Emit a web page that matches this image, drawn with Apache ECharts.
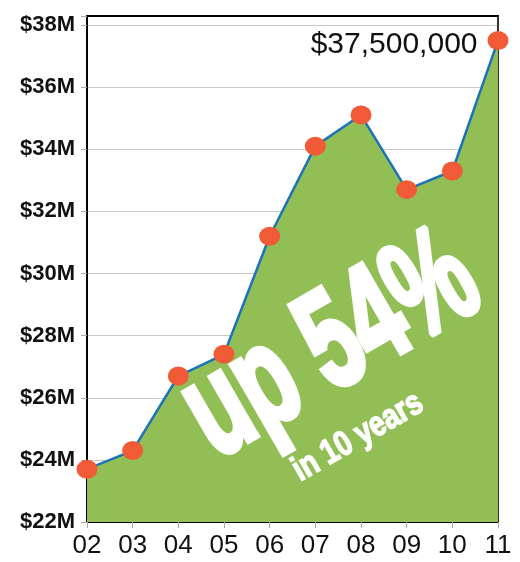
<!DOCTYPE html>
<html>
<head>
<meta charset="utf-8">
<script src="https://cdn.jsdelivr.net/npm/echarts@6/dist/echarts.min.js"></script>
<style>
  html, body { margin: 0; padding: 0; background: #fff; }
  #chart { width: 520px; height: 562px; }
</style>
</head>
<body>
<div id="chart"></div>
<script>
// years (2002 - 2011)
var years = ['02', '03', '04', '05', '06', '07', '08', '09', '10', '11'];
// value in millions of dollars
var values = [23.7, 24.3, 26.7, 27.4, 31.2, 34.1, 35.1, 32.7, 33.3, 37.5];
var lastLabel = '$37,500,000';
var headline = 'up 54%';
var subline = 'in 10 years';

var font = '"Liberation Sans", Arial, sans-serif';
var tilt = 30 * Math.PI / 180;

var chart = echarts.init(document.getElementById('chart'));

var seriesData = values.map(function (v, i) {
    if (i === values.length - 1) {
        return {
            value: v,
            label: {
                show: true,
                position: 'left',
                distance: 10,
                offset: [0, 4],
                formatter: lastLabel,
                fontFamily: font,
                fontSize: 30,
                color: '#111'
            }
        };
    }
    return v;
});

function slantedText(x, y, text, size, squeeze, weight) {
    // rotate the group, squeeze the text inside it (no shear)
    return {
        type: 'group',
        x: x,
        y: y,
        rotation: tilt,
        z: 10,
        children: [{
            type: 'text',
            scaleX: squeeze,
            z: 10,
            style: {
                text: text,
                fill: '#fff',
                stroke: '#fff',
                lineWidth: weight,
                font: 'bold ' + size + 'px ' + font,
                textAlign: 'center',
                textVerticalAlign: 'middle',
                align: 'center',
                verticalAlign: 'middle'
            }
        }]
    };
}

var option = {
    animation: false,
    grid: { left: 87, right: 22, top: 16, bottom: 40 },
    xAxis: [{
        type: 'category',
        data: years,
        boundaryGap: false,
        axisLine: { lineStyle: { color: '#000', width: 2 } },
        axisTick: { show: true, length: 6, lineStyle: { color: '#aaa' } },
        axisLabel: { fontFamily: font, fontSize: 26, color: '#111', margin: 11 }
    }, {
        type: 'category',
        data: years,
        position: 'top',
        boundaryGap: false,
        axisLine: { lineStyle: { color: '#000', width: 2 } },
        axisTick: { show: false },
        axisLabel: { show: false }
    }],
    yAxis: [{
        type: 'value',
        min: 22,
        max: 38.29,
        interval: 2,
        axisLine: { show: true, lineStyle: { color: '#000', width: 2 } },
        axisTick: { show: true, length: 6, lineStyle: { color: '#aaa' } },
        splitLine: { lineStyle: { color: '#c8c8c8', width: 1 } },
        axisLabel: {
            fontFamily: font,
            fontWeight: 'bold',
            fontSize: 22,
            color: '#111',
            margin: 12,
            formatter: function (v) {
                return (Math.abs(v % 2) < 1e-6) ? '$' + v + 'M' : '';
            }
        }
    }, {
        type: 'value',
        min: 22,
        max: 38.29,
        interval: 2,
        position: 'right',
        axisLine: { show: true, lineStyle: { color: '#333', width: 2 } },
        axisTick: { show: false },
        splitLine: { show: false },
        axisLabel: { show: false }
    }],
    series: [{
        type: 'line',
        data: seriesData,
        symbol: 'circle',
        symbolSize: [21, 19],
        itemStyle: { color: '#f15a36' },
        lineStyle: { color: '#1a74b6', width: 2.5 },
        areaStyle: { color: '#92bf55', opacity: 1 },
        z: 3
    }],
    graphic: [
        slantedText(332, 348, headline, 140, 0.64, 6),
        slantedText(358, 437, subline, 35, 0.8, 1.5)
    ]
};

chart.setOption(option);
</script>
</body>
</html>
